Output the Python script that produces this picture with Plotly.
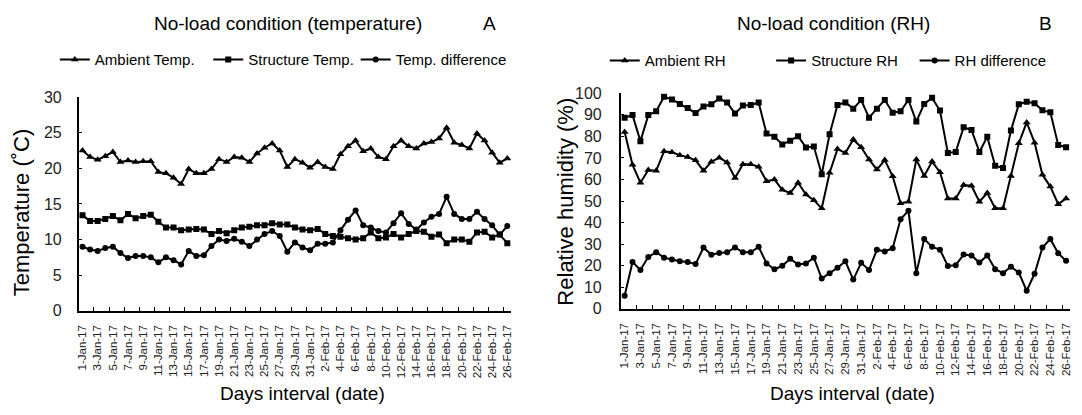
import pandas as pd
import plotly.graph_objects as go

# Daily readings, 1 Jan 2017 - 26 Feb 2017
dates = pd.date_range("2017-01-01", "2017-02-26", freq="D")
date_labels = [f"{d.day}-{d.strftime('%b')}-{d.strftime('%y')}" for d in dates]

ambient_temp = [22.5, 21.6, 21.2, 21.7, 22.3, 20.9, 21.1, 20.9, 21.0, 21.0,
                19.5, 19.3, 18.7, 17.8, 19.9, 19.3, 19.3, 19.9, 21.3, 20.9,
                21.6, 21.5, 20.9, 22.1, 22.9, 23.5, 22.5, 20.2, 21.3, 20.8,
                20.1, 20.9, 20.2, 19.9, 22.0, 23.1, 23.9, 22.4, 22.8, 21.6,
                21.3, 23.1, 23.9, 23.1, 22.8, 23.5, 23.7, 24.2, 25.7, 23.6,
                23.3, 22.8, 24.9, 23.9, 22.2, 20.8, 21.4]
structure_temp = [13.4, 12.6, 12.6, 12.9, 13.3, 12.7, 13.6, 13.0, 13.3, 13.5,
                  12.5, 11.7, 11.7, 11.3, 11.4, 11.5, 11.4, 10.8, 11.2, 10.9,
                  11.3, 11.7, 11.8, 12.0, 12.0, 12.3, 12.1, 12.1, 11.7, 11.4,
                  11.3, 11.5, 10.8, 10.5, 10.4, 10.2, 10.0, 10.2, 11.0, 10.2,
                  10.3, 10.8, 10.3, 10.8, 11.2, 11.1, 10.4, 10.7, 9.5, 10.0,
                  10.0, 9.7, 11.0, 11.1, 10.3, 10.7, 9.5]
temp_difference = [9.0, 8.6, 8.4, 8.8, 9.0, 8.1, 7.4, 7.7, 7.7, 7.5,
                   6.8, 7.5, 7.1, 6.5, 8.4, 7.7, 7.8, 9.1, 10.0, 9.8,
                   10.1, 9.7, 9.1, 10.0, 10.8, 11.2, 10.5, 8.3, 9.6, 8.9,
                   8.5, 9.4, 9.4, 9.6, 11.3, 12.8, 14.1, 12.0, 11.7, 11.2,
                   11.0, 12.3, 13.7, 12.2, 11.4, 12.4, 13.2, 13.6, 16.0, 13.6,
                   12.9, 12.9, 13.9, 12.9, 12.0, 10.7, 11.9]

ambient_rh = [82.0, 66.8, 58.5, 64.4, 64.1, 73.1, 72.6, 71.3, 70.4, 68.9,
              64.1, 68.2, 70.1, 67.9, 60.7, 67.1, 67.1, 65.9, 59.2, 60.0,
              55.2, 53.7, 58.5, 53.0, 50.4, 46.6, 63.1, 74.1, 72.3, 78.6,
              75.0, 69.3, 64.6, 69.0, 61.5, 49.0, 49.7, 69.3, 61.6, 68.3,
              63.4, 51.2, 51.2, 57.4, 57.1, 49.7, 53.7, 46.6, 46.6, 61.6,
              76.8, 86.5, 77.1, 62.2, 56.7, 48.5, 51.2]
structure_rh = [88.7, 89.9, 77.8, 89.9, 91.7, 98.4, 97.2, 95.1, 93.2, 90.9,
                93.9, 94.9, 97.6, 95.7, 90.6, 94.3, 94.6, 95.7, 81.3, 79.8,
                76.3, 78.0, 80.1, 74.9, 75.3, 62.4, 81.0, 94.6, 95.8, 92.9,
                96.9, 88.7, 92.9, 96.9, 91.0, 91.7, 96.9, 86.9, 95.1, 97.9,
                92.0, 72.3, 72.8, 84.2, 83.0, 72.8, 79.8, 66.4, 65.3, 82.7,
                94.9, 96.1, 95.4, 92.1, 91.2, 76.0, 75.0]
rh_difference = [6.0, 21.7, 18.0, 24.0, 26.2, 23.7, 22.8, 22.0, 21.7, 20.7,
                 28.4, 25.0, 25.9, 26.2, 28.4, 26.2, 26.2, 28.7, 21.0, 18.3,
                 19.9, 23.2, 20.5, 21.0, 23.7, 14.0, 16.5, 19.0, 22.0, 13.5,
                 21.3, 18.0, 27.4, 26.6, 28.1, 41.5, 45.5, 16.5, 32.4, 28.7,
                 27.4, 19.8, 20.2, 25.1, 24.7, 21.4, 24.7, 18.3, 16.5, 19.5,
                 16.8, 8.3, 16.2, 28.4, 32.4, 25.7, 22.2]

FONT = "Liberation Sans, Arial, sans-serif"
W, H = 1082, 415
idx = list(range(len(date_labels)))


def px_x(p):
    return p / W


def px_y(p):
    return 1 - p / H


fig = go.Figure()

series = [
    ("Ambient Temp.", ambient_temp, "triangle-up", 7, "x", "y", "legend"),
    ("Structure Temp.", structure_temp, "square", 6, "x", "y", "legend2"),
    ("Temp. difference", temp_difference, "circle", 6, "x", "y", "legend3"),
    ("Ambient RH", ambient_rh, "triangle-up", 7, "x2", "y2", "legend4"),
    ("Structure RH", structure_rh, "square", 6, "x2", "y2", "legend5"),
    ("RH difference", rh_difference, "circle", 6, "x2", "y2", "legend6"),
]
for name, vals, sym, size, xa, ya, lg in series:
    fig.add_trace(go.Scatter(
        x=idx, y=vals, name=name, mode="lines+markers",
        line=dict(color="black", width=2),
        marker=dict(symbol=sym, size=size, color="black"),
        xaxis=xa, yaxis=ya, legend=lg,
    ))

even_ticks = idx[::2]
minor_ticks = [i + 1.5 for i in range(0, 56, 2)]


def x_axis(domain, anchor):
    return dict(
        domain=domain, anchor=anchor, range=[-0.5, 56.5],
        tickmode="array", tickvals=even_ticks,
        ticktext=[date_labels[i] for i in even_ticks],
        tickangle=-90, ticks="", showgrid=False, zeroline=False,
        showline=True, linecolor="black", linewidth=1.5,
        tickfont=dict(family=FONT, size=11.5, color="#222"),
        ticklabelstandoff=8,
        minor=dict(tickmode="array", tickvals=minor_ticks, ticks="inside",
                   ticklen=4, tickcolor="black", tickwidth=1, showgrid=False),
    )


def y_axis(domain, anchor, rng, step, standoff):
    return dict(
        domain=domain, anchor=anchor, range=rng, dtick=step, tick0=0,
        ticks="inside", ticklen=4, tickcolor="black", tickwidth=1,
        showgrid=False, zeroline=False,
        showline=True, linecolor="black", linewidth=1.5,
        tickfont=dict(family=FONT, size=16, color="#222"),
        ticklabelstandoff=standoff,
    )


legend_base = dict(orientation="h", xanchor="left", yanchor="middle",
                   bgcolor="rgba(0,0,0,0)", itemwidth=30,
                   font=dict(family=FONT, size=15, color="black"))
legend_left = {"legend": 53, "legend2": 207, "legend3": 355,
               "legend4": 605, "legend5": 772, "legend6": 916}
legend_layout = {}
for key, left in legend_left.items():
    yc = 54 if key in ("legend", "legend2", "legend3") else 55
    legend_layout[key] = dict(legend_base, x=px_x(left), y=px_y(yc))

fig.update_layout(
    width=W, height=H,
    margin=dict(l=0, r=0, t=0, b=0),
    paper_bgcolor="white", plot_bgcolor="white",
    showlegend=True,
    xaxis=x_axis([px_x(77), px_x(511)], "y"),
    yaxis=y_axis([px_y(315.7), px_y(93)], "x", [0, 30], 5, 12),
    xaxis2=x_axis([px_x(621), px_x(1072)], "y2"),
    yaxis2=y_axis([px_y(313.5), px_y(89)], "x2", [0, 100], 10, 14),
    **legend_layout,
)

texts = [
    ("No-load condition (temperature)", 287, 16, 19, 0),
    ("A", 489, 16, 19, 0),
    ("No-load condition (RH)", 835, 16, 19, 0),
    ("B", 1047, 16, 19, 0),
    ("Days interval (date)", 302, 402, 19, 0),
    ("Days interval (date)", 854, 402, 19, 0),
    ("Temperature (˚C)", 19, 213, 22, -90),
    ("Relative humidity (%)", 566, 202, 22, -90),
]
for txt, cx, cy, size, ang in texts:
    fig.add_annotation(
        text=txt, x=px_x(cx), y=px_y(cy), xref="paper", yref="paper",
        xanchor="center", yanchor="middle", showarrow=False, textangle=ang,
        font=dict(family=FONT, size=size, color="black"),
    )

fig.write_html("out.html")
